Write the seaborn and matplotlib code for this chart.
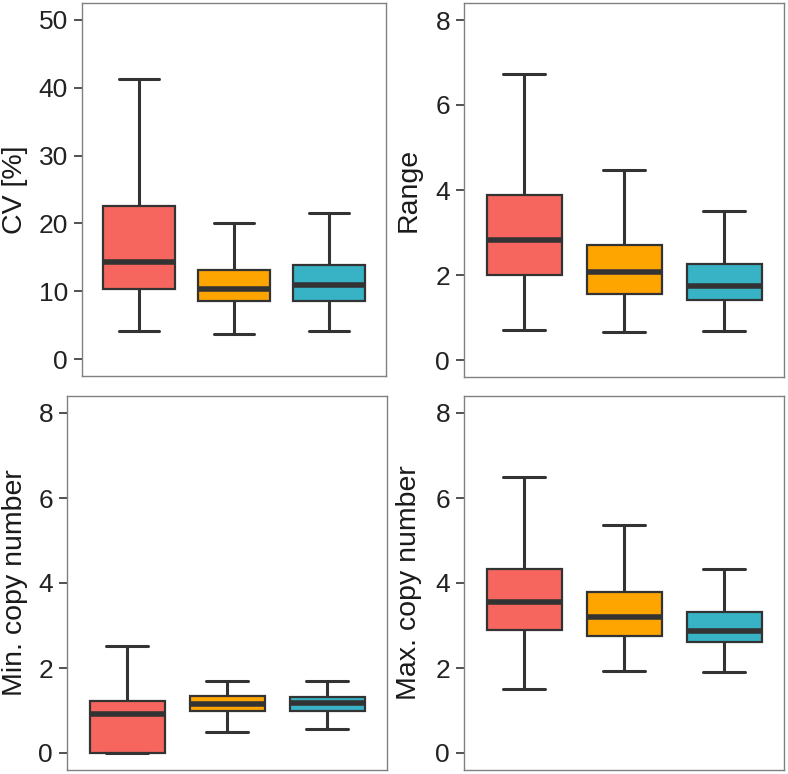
import numpy as np
import pandas as pd
import matplotlib
matplotlib.use("Agg")
import matplotlib.pyplot as plt
import seaborn as sns

# groups and colours (x axis has no labels in the figure)
groups = ["G1", "G2", "G3"]
colors = ["#F6665F", "#FFA500", "#37B3C5"]

# five-number summaries: [min, q1, median, q3, max]
cv = [[4.1, 10.3, 14.3, 22.6, 41.3],
      [3.7, 8.5, 10.3, 13.1, 20.1],
      [4.2, 8.6, 10.9, 13.8, 21.5]]
rng = [[0.71, 2.00, 2.83, 3.88, 6.72],
       [0.65, 1.55, 2.07, 2.71, 4.47],
       [0.68, 1.41, 1.73, 2.25, 3.51]]
min_cn = [[0.0, 0.01, 0.91, 1.22, 2.51],
          [0.49, 0.99, 1.16, 1.33, 1.69],
          [0.56, 1.00, 1.17, 1.32, 1.69]]
max_cn = [[1.50, 2.90, 3.55, 4.34, 6.50],
          [1.94, 2.75, 3.19, 3.80, 5.37],
          [1.90, 2.62, 2.88, 3.32, 4.33]]

panels = [
    ("CV [%]", cv, [0, 10, 20, 30, 40, 50]),
    ("Range", rng, [0, 2, 4, 6, 8]),
    ("Min. copy number", min_cn, [0, 2, 4, 6, 8]),
    ("Max. copy number", max_cn, [0, 2, 4, 6, 8]),
]

sns.set_style("white")
plt.rcParams['font.family'] = ['Liberation Sans', 'DejaVu Sans']

W, H = 788, 774
fig = plt.figure(figsize=(W / 100, H / 100), dpi=100)

# axes boxes in pixels: left, top, right, bottom ; and label x (pixels)
boxes = [(82, 3, 386, 376, 28), (464, 3, 784, 377, 422),
         (67, 396, 387, 770, 28), (464, 396, 784, 770, 422)]

dark = "#333333"
for (label, summ, ticks), (l, t, r, b, lx) in zip(panels, boxes):
    ax = fig.add_axes([l / W, 1 - b / H, (r - l) / W, (b - t) / H])
    df = pd.DataFrame({
        "group": np.repeat(groups, 5),
        "value": np.concatenate(summ),
    })
    sns.boxplot(data=df, x="group", y="value", hue="group", palette=colors,
                order=groups, hue_order=groups, legend=False, ax=ax,
                width=0.75, whis=(0, 100), showfliers=False, saturation=1,
                linecolor=dark, linewidth=1.6,
                medianprops={"linewidth": 4, "color": dark},
                whiskerprops={"linewidth": 2.2},
                capprops={"linewidth": 2.2},
                capwidths=0.42)
    top = ticks[-1]
    pad = top * 0.05
    ax.set_ylim(-pad, top + pad)
    ax.set_xlim(-0.6, 2.6)
    ax.set_yticks(ticks)
    ax.set_xticks([])
    ax.set_xlabel("")
    ax.set_ylabel(label, fontsize=20.5, color="#1a1a1a")
    ax.yaxis.set_label_coords((lx - l) / (r - l), 0.5)
    ax.tick_params(axis="y", length=6, width=1.2, color=dark, pad=4,
                   labelsize=19, labelcolor="#222222", left=True)
    for s in ax.spines.values():
        s.set_color("#808080")
        s.set_linewidth(1)

fig.savefig("out.png", dpi=100)
